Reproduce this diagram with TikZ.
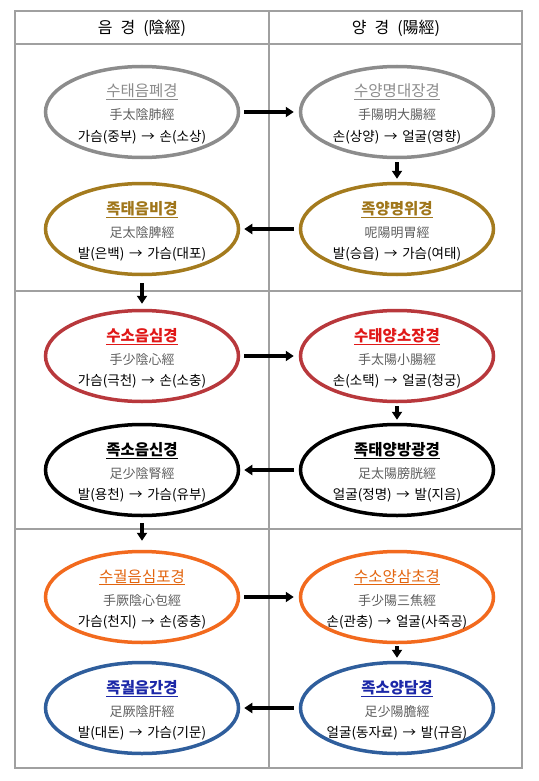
\documentclass[tikz,border=0pt]{standalone}
\usepackage{fontspec}
\setmainfont{Noto Sans CJK KR}
\usetikzlibrary{shapes.geometric,arrows.meta}
\definecolor{gridgray}{HTML}{A0A0A0}
\definecolor{cgray}{HTML}{8C8C8C}
\definecolor{cgold}{HTML}{A47B1E}
\definecolor{tgold}{HTML}{A0761A}
\definecolor{cred}{HTML}{B8383C}
\definecolor{tred}{HTML}{E01818}
\definecolor{corange}{HTML}{F26A1E}
\definecolor{torange}{HTML}{E2640E}
\definecolor{cblue}{HTML}{2F5E9C}
\definecolor{tblue}{HTML}{1C28A8}
\definecolor{hanja}{HTML}{5E5E5E}
\newcommand\ar{\hspace{0.35em}→\hspace{0.35em}}
\newcommand\meridiannode[7]{%
  \node[mer, draw=#3] (#1) at #2 {};
  \node[ttl, #4] (#1t) at ([yshift=15pt]#1.center) {\underline{#5}};
  \node[hj] (#1h) at ([yshift=-8pt]#1.center) {#6};
  \node[rt] (#1r) at ([yshift=-29pt]#1.center) {#7};
}
\begin{document}
\begin{tikzpicture}[x=1pt,y=-1pt,
  mer/.style={ellipse, line width=3.5pt, minimum width=193pt, minimum height=91pt, inner sep=0pt},
  ttl/.style={anchor=base, inner sep=0pt, font=\fontsize{15.5}{17}\selectfont},
  tb/.style={font=\fontsize{15.5}{17}\selectfont\bfseries},
  hj/.style={anchor=base, inner sep=0pt, text=hanja, font=\fontsize{13}{15}\selectfont},
  rt/.style={anchor=base, inner sep=0pt, font=\fontsize{13.5}{15}\selectfont},
  hdr/.style={anchor=base, inner sep=0pt, font=\fontsize{16}{18}\selectfont},
  arr/.style={line width=3.5pt, -{Triangle[length=8pt,width=10pt]}},
  grid/.style={draw=gridgray, line width=1.2pt}]
\useasboundingbox (0,0) rectangle (538,781);
% table
\draw[grid] (15,11) rectangle (522,768);
\draw[grid] (269,11) -- (269,768);
\draw[grid] (15,44) -- (522,44);
\draw[grid] (15,291) -- (522,291);
\draw[grid] (15,529) -- (522,529);
\node[hdr] (h1) at (142,34) {음\hspace{0.5em}경\hspace{0.5em}(陰經)};
\node[hdr] (h2) at (396,34) {양\hspace{0.5em}경\hspace{0.5em}(陽經)};
% meridians
\meridiannode{L1}{(142,112)}{cgray}{text=cgray}{수태음폐경}{手太陰肺經}{가슴(중부)\ar 손(소상)}
\meridiannode{R1}{(397,112)}{cgray}{text=cgray}{수양명대장경}{手陽明大腸經}{손(상양)\ar 얼굴(영향)}
\meridiannode{L2}{(142,229)}{cgold}{tb,text=tgold}{족태음비경}{足太陰脾經}{발(은백)\ar 가슴(대포)}
\meridiannode{R2}{(397,229)}{cgold}{tb,text=tgold}{족양명위경}{呢陽明胃經}{발(승읍)\ar 가슴(여태)}
\meridiannode{L3}{(142,356)}{cred}{tb,text=tred}{수소음심경}{手少陰心經}{가슴(극천)\ar 손(소충)}
\meridiannode{R3}{(397,356)}{cred}{tb,text=tred}{수태양소장경}{手太陽小腸經}{손(소택)\ar 얼굴(청궁)}
\meridiannode{L4}{(142,470)}{black}{tb,text=black}{족소음신경}{足少陰腎經}{발(용천)\ar 가슴(유부)}
\meridiannode{R4}{(397,470)}{black}{tb,text=black}{족태양방광경}{足太陽膀胱經}{얼굴(정명)\ar 발(지음)}
\meridiannode{L5}{(142,597)}{corange}{text=torange}{수궐음심포경}{手厥陰心包經}{가슴(천지)\ar 손(중충)}
\meridiannode{R5}{(397,597)}{corange}{text=torange}{수소양삼초경}{手少陽三焦經}{손(관충)\ar 얼굴(사죽공)}
\meridiannode{L6}{(142,708)}{cblue}{tb,text=tblue}{족궐음간경}{足厥陰肝經}{발(대돈)\ar 가슴(기문)}
\meridiannode{R6}{(397,708)}{cblue}{tb,text=tblue}{족소양담경}{足少陽膽經}{얼굴(동자료)\ar 발(규음)}
% arrows
\draw[arr, shorten <=4pt, shorten >=5pt] (L1) -- (R1);
\draw[arr, shorten <=3pt, shorten >=3pt] (R1) -- (R2);
\draw[arr, shorten <=5pt, shorten >=4pt] (R2) -- (L2);
\draw[arr, shorten <=7pt, shorten >=5pt] (L2) -- (L3);
\draw[arr, shorten <=4pt, shorten >=5pt] (L3) -- (R3);
\draw[arr, shorten <=3pt, shorten >=3pt] (R3) -- (R4);
\draw[arr, shorten <=5pt, shorten >=4pt] (R4) -- (L4);
\draw[arr, shorten <=6pt, shorten >=9pt] (L4) -- (L5);
\draw[arr, shorten <=4pt, shorten >=5pt] (L5) -- (R5);
\draw[arr, shorten <=2pt, shorten >=3pt] (R5) -- (R6);
\draw[arr, shorten <=5pt, shorten >=4pt] (R6) -- (L6);
\end{tikzpicture}
\end{document}
